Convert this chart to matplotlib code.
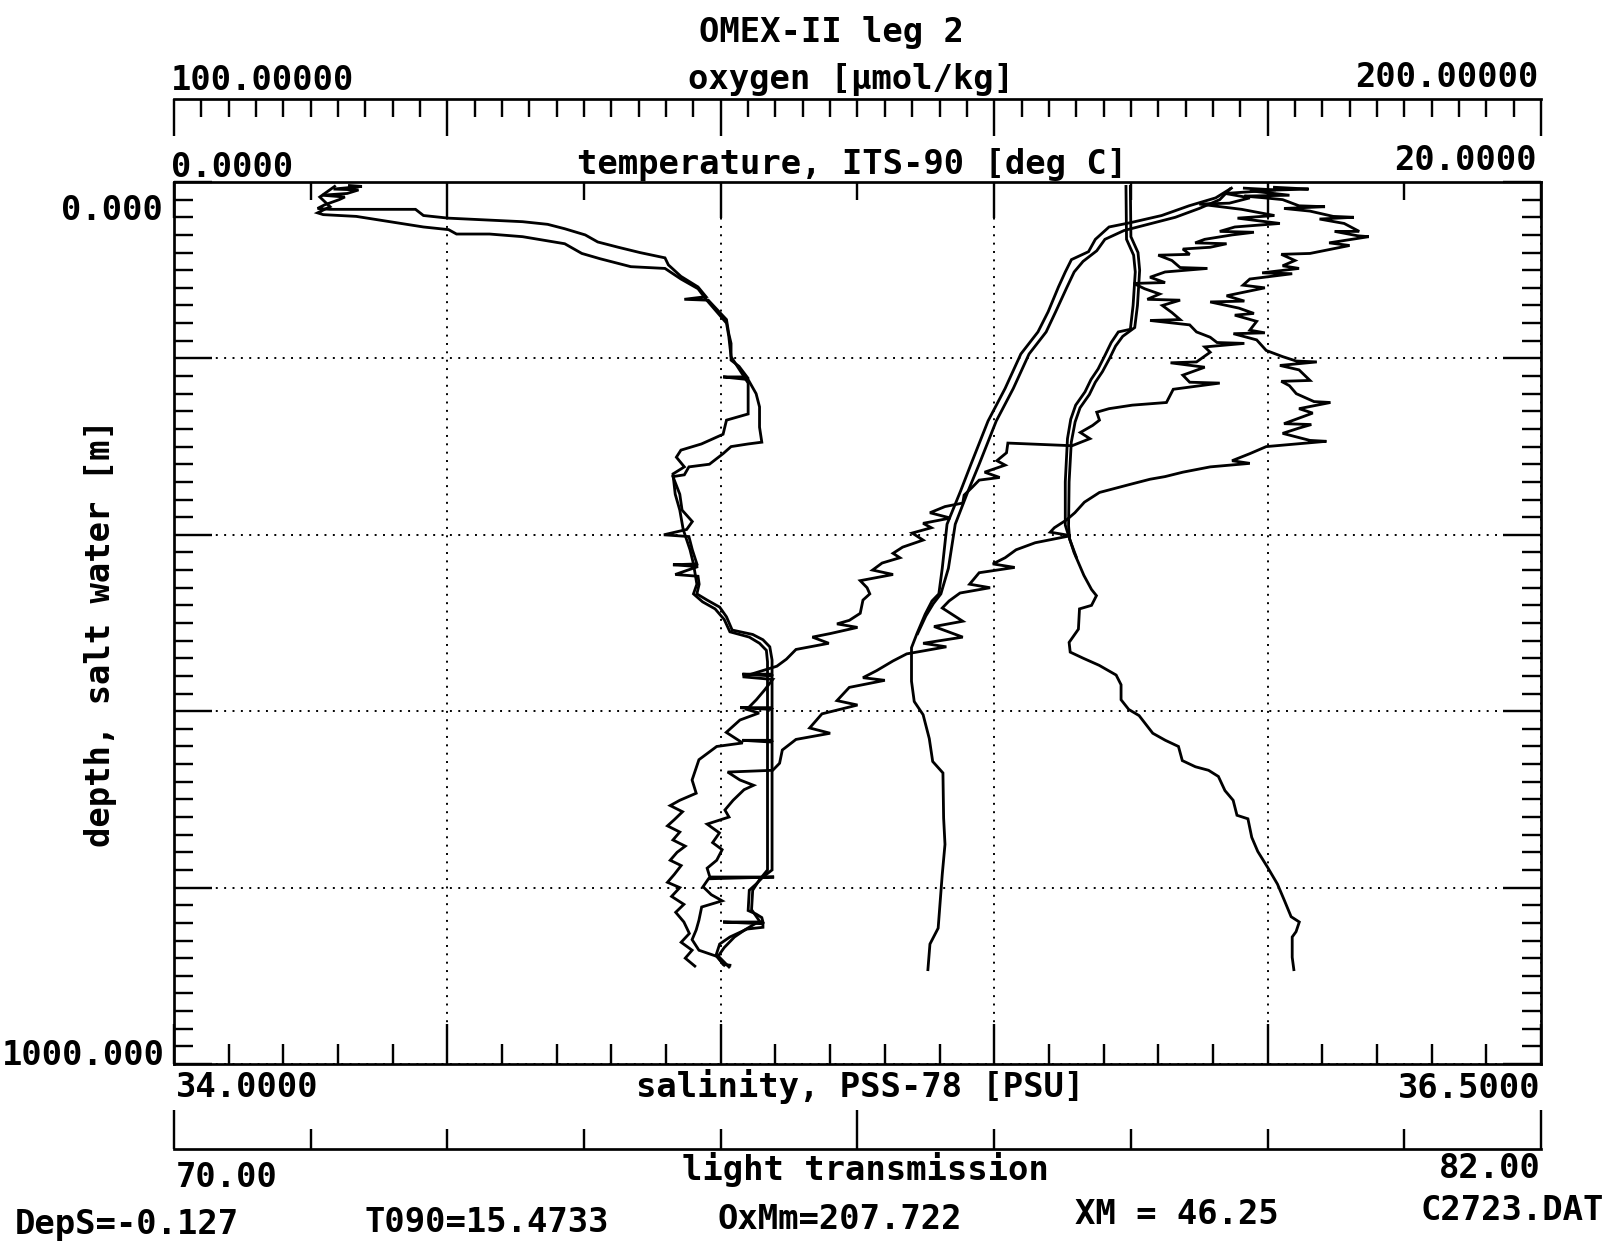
import matplotlib
matplotlib.use("Agg")
import matplotlib.pyplot as plt
from matplotlib.ticker import MultipleLocator, FixedLocator

W, H, DPI = 1615, 1247, 100
PX = 72.0 / DPI          # points per pixel

# ---------------- CTD profile data (depth in m) ----------------
# temperature, ITS-90 [deg C] -- two casts
temp_dn_depth = [7, 18, 27, 38, 46, 51, 65, 79, 88, 102, 119, 147, 170, 195, 234, 271, 320, 350, 388, 438,
                 467, 475, 490, 512, 528, 566, 589, 604, 631, 657, 670, 721, 751, 785, 846, 864, 893]
temp_dn = [15.47, 15.24, 14.85, 14.45, 14.00, 13.68, 13.48, 13.38, 13.13, 13.04, 12.94, 12.79, 12.64, 12.39,
           12.16, 11.91, 11.66, 11.51, 11.31, 11.24, 11.19, 11.09, 10.99, 10.87, 10.79, 10.79, 10.83, 10.96,
           11.05, 11.10, 11.25, 11.26, 11.28, 11.24, 11.18, 11.06, 11.03]
temp_up_depth = [8, 20, 30, 40, 48, 55, 65, 78, 90, 102, 120, 147, 170, 195, 234, 271, 320, 350, 388, 438,
                 467, 478, 492, 512]
temp_up = [15.45, 15.30, 15.00, 14.65, 14.25, 13.90, 13.62, 13.50, 13.30, 13.17, 13.06, 12.90, 12.76, 12.51,
           12.28, 12.03, 11.78, 11.62, 11.43, 11.33, 11.22, 11.11, 11.00, 10.88]

# salinity, PSS-78 [PSU] -- two casts
sal_dn_depth = [5, 65, 83, 102, 140, 167, 170, 182, 196, 212, 224, 238, 253, 269, 291, 340, 389, 397, 420, 446,
                462, 469, 480, 484, 507, 522, 533, 540, 548, 559, 570, 587, 598, 605, 625, 633, 640, 656, 663, 667,
                674, 690, 701, 718, 722, 743, 759, 777, 796, 815, 833, 839, 850, 856, 879, 893]
sal_dn = [35.741, 35.742, 35.755, 35.758, 35.754, 35.749, 35.727, 35.714, 35.703, 35.690, 35.677, 35.666, 35.649,
          35.640, 35.634, 35.630, 35.630, 35.634, 35.646, 35.664, 35.678, 35.687, 35.678, 35.656, 35.654, 35.637,
          35.639, 35.663, 35.692, 35.723, 35.732, 35.732, 35.746, 35.765, 35.790, 35.813, 35.837, 35.844, 35.868,
          35.892, 35.910, 35.922, 35.937, 35.944, 35.964, 35.971, 35.982, 36.000, 36.018, 36.031, 36.043, 36.058,
          36.052, 36.045, 36.045, 36.048]
sal_up_depth = [5, 62, 80, 100, 140, 165, 175, 186, 200, 215, 227, 241, 256, 272, 295, 340, 390, 405, 425]
sal_up = [35.749, 35.750, 35.763, 35.766, 35.762, 35.757, 35.735, 35.722, 35.711, 35.698, 35.685, 35.674, 35.657,
          35.648, 35.641, 35.637, 35.636, 35.638, 35.650]

# oxygen [umol/kg] -- two casts
oxy_dn_depth = [6, 8, 10, 15, 16, 18, 20, 27, 28, 30, 33, 39, 40, 42, 47, 56, 56, 61, 62, 69,
                72, 81, 82, 89, 95, 98, 103, 104, 110, 117, 120, 129, 135, 136, 143, 149, 151, 158, 168, 171,
                172, 179, 191, 198, 203, 204, 208, 213, 225, 226, 231, 240, 249, 250, 257, 262, 274, 275, 279, 285,
                293, 294, 300, 308, 316, 319, 323, 329, 334, 337, 343, 352, 363, 375, 383, 392, 397, 401, 409, 417,
                426, 433, 437, 443, 456, 460, 466, 475, 483, 498, 504, 516, 523, 527, 535, 543, 554, 562, 565, 573,
                588, 593, 603, 619, 625, 632, 644, 659, 667, 669, 678, 684, 689, 701, 712, 720, 728, 738, 749, 757,
                769, 778, 788, 788, 790, 799, 808, 815, 822, 837, 848, 859, 871, 879, 890]
oxy_dn = [180.5, 183.0, 178.7, 181.6, 178.3, 179.8, 181.1, 182.3, 184.2, 181.2, 183.1, 184.8, 186.3, 183.8, 185.6,
          186.7, 184.9, 186.6, 187.4, 184.5, 186.0, 183.1, 181.0, 182.0, 181.1, 182.3, 179.6, 181.8, 178.7, 178.2,
          179.8, 177.0, 178.3, 175.8, 177.9, 179.0, 177.6, 179.2, 178.7, 179.8, 177.5, 179.2, 179.9, 181.1, 182.1,
          183.6, 180.9, 182.3, 183.1, 181.0, 181.6, 182.1, 183.4, 184.6, 182.3, 183.3, 181.2, 183.2, 182.3, 181.1,
          183.1, 184.3, 179.9, 178.7, 177.4, 178.7, 175.8, 173.8, 172.5, 171.4, 169.9, 167.7, 166.6, 165.9, 165.3,
          164.4, 164.1, 165.6, 163.0, 161.6, 160.8, 159.9, 161.5, 158.9, 158.2, 159.7, 157.5, 156.7, 156.2, 157.7,
          155.6, 157.7, 154.8, 156.5, 153.6, 152.6, 151.4, 150.4, 152.0, 149.4, 148.5, 150.0, 147.4, 146.5, 148.0,
          145.5, 144.5, 144.3, 143.8, 140.5, 141.4, 142.4, 141.7, 140.9, 140.3, 140.6, 139.0, 139.9, 139.4, 140.1,
          139.7, 139.0, 139.2, 143.9, 139.1, 138.7, 139.3, 140.1, 138.6, 138.4, 138.2, 137.9, 138.4, 139.9, 140.6]
oxy_up_depth = [7, 9, 13, 18, 24, 25, 31, 38, 41, 47, 51, 56, 57, 60, 65, 69, 70, 74, 76, 82,
                83, 89, 97, 98, 102, 108, 114, 115, 121, 127, 133, 134, 140, 148, 156, 157, 162, 170, 176, 182,
                183, 187, 193, 204, 205, 210, 219, 227, 228, 235, 250, 253, 257, 261, 270, 276, 284, 291, 299, 296,
                307, 316, 321, 329, 335, 338, 346, 355, 364, 368, 375, 381, 387, 392, 398, 406, 414, 421, 426, 432,
                440, 445, 452, 460, 467, 474, 489, 497, 501, 505, 512, 516, 523, 530, 541, 549, 561, 564, 576, 587,
                598, 602, 610, 624, 636, 640, 655, 678, 693, 701, 707, 714, 723, 730, 737, 746, 753, 760, 769, 775,
                785, 794, 800, 810, 819, 828, 839, 852, 862, 871, 880, 889]
oxy_up = [178.3, 180.6, 176.9, 178.7, 177.2, 175.0, 178.1, 180.5, 177.8, 180.9, 177.6, 176.5, 179.0, 177.4, 175.4,
          174.7, 177.0, 175.8, 173.8, 174.3, 172.0, 173.0, 173.6, 175.6, 172.5, 171.4, 172.5, 170.2, 171.0, 172.1,
          171.2, 173.6, 172.3, 173.0, 173.6, 171.4, 174.3, 174.8, 175.8, 176.3, 178.3, 175.4, 175.8, 174.8, 172.9,
          175.4, 173.8, 174.3, 176.5, 173.1, 172.6, 170.1, 168.4, 167.5, 167.7, 167.2, 166.3, 167.0, 165.7, 161.0,
          160.9, 160.2, 160.8, 159.3, 160.4, 158.9, 158.4, 157.8, 157.7, 156.4, 155.3, 156.8, 154.8, 155.4, 154.0,
          154.8, 153.3, 152.6, 153.1, 151.8, 151.1, 152.6, 150.2, 150.7, 150.9, 150.4, 150.2, 149.4, 148.5, 150.0,
          148.0, 146.7, 147.9, 145.5, 144.8, 144.1, 141.6, 143.8, 143.2, 142.6, 141.9, 142.8, 141.4, 140.4, 141.6,
          139.7, 138.4, 137.9, 138.2, 137.0, 136.3, 137.2, 136.6, 136.1, 137.0, 136.5, 137.4, 136.8, 136.3, 137.1,
          136.6, 136.1, 137.0, 136.4, 137.3, 136.7, 137.3, 137.7, 137.1, 137.9, 137.4, 138.1]

# light transmission [%] -- two casts
lt_dn_depth = [4, 5, 8, 9, 13, 15, 17, 20, 26, 30, 31, 31, 38, 41, 45, 48, 53, 60, 68, 74,
               80, 86, 94, 107, 119, 130, 133, 134, 145, 156, 172, 183, 202, 209, 221, 221, 224, 240, 255, 278,
               295, 297, 300, 308, 320, 323, 332, 334, 354, 372, 385, 394, 400, 402, 417, 433, 434, 436, 445, 447,
               456, 467, 474, 482, 493, 508, 513, 519, 527, 542, 558, 558, 560, 584, 596, 596, 598, 633, 633, 635,
               652, 697, 743, 780, 788, 796, 803, 826, 830, 834, 839, 839, 841, 845, 847, 856, 864, 876, 887, 888]
lt_dn = [71.54, 71.65, 71.40, 71.62, 71.52, 71.30, 71.50, 71.45, 71.32, 71.26, 71.37, 72.12, 72.19, 72.41, 73.06,
         73.28, 73.43, 73.61, 73.72, 73.90, 74.09, 74.31, 74.34, 74.45, 74.60, 74.67, 74.48, 74.69, 74.77, 74.85,
         74.87, 74.89, 74.89, 74.96, 75.03, 74.82, 75.04, 75.11, 75.14, 75.14, 75.16, 75.04, 74.89, 74.82, 74.70,
         74.52, 74.48, 74.38, 74.44, 74.46, 74.55, 74.50, 74.30, 74.52, 74.55, 74.59, 74.38, 74.60, 74.40, 74.60,
         74.61, 74.59, 74.68, 74.79, 74.85, 74.90, 75.08, 75.17, 75.23, 75.25, 75.25, 74.99, 75.25, 75.25, 75.25,
         74.97, 75.25, 75.25, 74.99, 75.25, 75.25, 75.25, 75.25, 75.25, 75.17, 75.11, 75.05, 75.04, 75.11, 75.16,
         75.17, 74.82, 75.17, 75.17, 75.03, 74.88, 74.79, 74.76, 74.82, 74.88]
lt_up_depth = [5, 17, 28, 35, 37, 39, 51, 54, 59, 59, 62, 70, 81, 87, 96, 98, 110, 121, 133, 148,
               160, 175, 198, 212, 228, 263, 270, 286, 297, 304, 312, 323, 331, 354, 372, 394, 417, 433, 456, 467,
               476, 484, 496, 510, 516, 523, 531, 544, 652, 780, 791, 803, 825, 838, 848, 856, 868, 879, 888]
lt_up = [71.41, 71.28, 71.37, 71.26, 71.31, 71.60, 72.19, 72.41, 72.48, 72.77, 73.06, 73.43, 73.58, 73.74, 74.01,
         74.31, 74.45, 74.60, 74.67, 74.77, 74.85, 74.87, 74.89, 74.96, 75.04, 75.04, 74.85, 74.82, 74.63, 74.45,
         74.41, 74.48, 74.38, 74.40, 74.44, 74.47, 74.53, 74.56, 74.59, 74.56, 74.64, 74.75, 74.83, 74.88, 75.05,
         75.14, 75.20, 75.21, 75.21, 75.21, 75.14, 75.08, 75.07, 75.14, 75.01, 74.92, 74.83, 74.77, 74.83]

# axis ranges and tick steps
DEPTH_RANGE = (0.0, 1000.0)
SAL_RANGE = (34.0, 36.5)
TEMP_RANGE = (0.0, 20.0)
OXY_RANGE = (100.0, 200.0)
LT_RANGE = (70.0, 82.0)
LT_TICKS = [70.0, 71.2, 72.4, 73.6, 74.8, 76.0, 77.2, 78.4, 79.6, 80.8, 82.0]
LT_LONG = [70.0, 76.0, 82.0]

# ---------------- figure ----------------
fig = plt.figure(figsize=(W / DPI, H / DPI), dpi=DPI)
fig.patch.set_facecolor("white")


def rect(x0, y_top, x1, y_bot):
    return [x0 / W, 1 - y_bot / H, (x1 - x0) / W, (y_bot - y_top) / H]


LW_FRAME = 2.7 * PX
LW_TICK = 2.4 * PX
LW_DATA = 2.8 * PX
INK = "black"

FONT = dict(family="DejaVu Sans Mono", weight="bold", size=24.4, color=INK)


def put(x, y, s, ha="left", **kw):
    fig.text(x / W, 1 - y / H, s, ha=ha, va="baseline", **FONT, **kw)


# main plotting frame: depth vs salinity (bottom)
ax = fig.add_axes(rect(174, 182, 1541, 1064))
ax.set_xlim(*SAL_RANGE)
ax.set_ylim(DEPTH_RANGE[1], DEPTH_RANGE[0])
for sp in ax.spines.values():
    sp.set_linewidth(LW_FRAME)
ax.xaxis.set_major_locator(MultipleLocator(0.5))
ax.xaxis.set_minor_locator(MultipleLocator(0.1))
ax.yaxis.set_major_locator(MultipleLocator(200))
ax.yaxis.set_minor_locator(MultipleLocator(20))
ax.tick_params(which="both", direction="in", bottom=True, top=False, left=True, right=True,
               labelbottom=False, labelleft=False, width=LW_TICK, color=INK)
ax.tick_params(axis="x", which="major", length=40 * PX)
ax.tick_params(axis="x", which="minor", length=20 * PX)
ax.tick_params(axis="y", which="major", length=38 * PX)
ax.tick_params(axis="y", which="minor", length=19 * PX)
ax.grid(True, which="major", color=INK, linestyle=(0, (1, 3.3)), linewidth=1.4)

# temperature scale along the top edge of the frame
ax_t = ax.twiny()
ax_t.set_xlim(*TEMP_RANGE)
for sp in ax_t.spines.values():
    sp.set_visible(False)
ax_t.xaxis.set_major_locator(MultipleLocator(4))
ax_t.xaxis.set_minor_locator(MultipleLocator(2))
ax_t.tick_params(which="both", direction="in", top=True, bottom=False, labeltop=False,
                 labelbottom=False, width=LW_TICK, color=INK)
ax_t.tick_params(which="major", length=36 * PX)
ax_t.tick_params(which="minor", length=18 * PX)

# hidden data scales for oxygen and light transmission
ax_od = ax.twiny()
ax_od.set_xlim(*OXY_RANGE)
ax_od.axis("off")
ax_ld = ax.twiny()
ax_ld.set_xlim(*LT_RANGE)
ax_ld.axis("off")

line_kw = dict(color=INK, linewidth=LW_DATA, solid_joinstyle="miter")
ax.plot(sal_dn, sal_dn_depth, **line_kw)
ax.plot(sal_up, sal_up_depth, **line_kw)
ax_t.plot(temp_dn, temp_dn_depth, **line_kw)
ax_t.plot(temp_up, temp_up_depth, **line_kw)
ax_od.plot(oxy_dn, oxy_dn_depth, **line_kw)
ax_od.plot(oxy_up, oxy_up_depth, **line_kw)
ax_ld.plot(lt_dn, lt_dn_depth, **line_kw)
ax_ld.plot(lt_up, lt_up_depth, **line_kw)

# oxygen scale above the frame
ax_o = fig.add_axes(rect(174, 99, 1541, 150))
ax_o.set_xlim(*OXY_RANGE)
ax_o.patch.set_visible(False)
for name, sp in ax_o.spines.items():
    sp.set_visible(name == "top")
    sp.set_linewidth(LW_FRAME)
ax_o.set_yticks([])
ax_o.xaxis.set_major_locator(MultipleLocator(20))
ax_o.xaxis.set_minor_locator(MultipleLocator(2))
ax_o.tick_params(which="both", direction="in", top=True, bottom=False, labeltop=False,
                 labelbottom=False, width=LW_TICK, color=INK)
ax_o.tick_params(which="major", length=37 * PX)
ax_o.tick_params(which="minor", length=18 * PX)

# light transmission scale below the frame
ax_l = fig.add_axes(rect(174, 1100, 1541, 1149))
ax_l.set_xlim(*LT_RANGE)
ax_l.patch.set_visible(False)
for name, sp in ax_l.spines.items():
    sp.set_visible(name == "bottom")
    sp.set_linewidth(LW_FRAME)
ax_l.set_yticks([])
ax_l.xaxis.set_major_locator(FixedLocator(LT_LONG))
ax_l.xaxis.set_minor_locator(FixedLocator([t for t in LT_TICKS if t not in LT_LONG]))
ax_l.tick_params(which="both", direction="in", bottom=True, top=False, labelbottom=False,
                 width=LW_TICK, color=INK)
ax_l.tick_params(which="major", length=39 * PX)
ax_l.tick_params(which="minor", length=20 * PX)

# ---------------- text ----------------
put(831, 42, "OMEX-II leg 2", ha="center")

put(171, 90, "100.00000")
put(851, 89, "oxygen [µmol/kg]", ha="center")
put(1539, 87, "200.00000", ha="right")

put(171, 177, "0.0000")
put(852, 174, "temperature, ITS-90 [deg C]", ha="center")
put(1537, 170, "20.0000", ha="right")

put(163, 220, "0.000", ha="right")
put(165, 1065, "1000.000", ha="right")
fig.text(101 / W, 1 - 633 / H, "depth, salt water [m]", rotation=90, ha="center", va="center",
         rotation_mode="anchor", **FONT)

put(176, 1097, "34.0000")
put(860, 1097, "salinity, PSS-78 [PSU]", ha="center")
put(1541, 1098, "36.5000", ha="right")

put(176, 1187, "70.00")
put(865, 1180, "light transmission", ha="center")
put(1541, 1178, "82.00", ha="right")

put(15, 1234, "DepS=-0.127")
put(365, 1232, "T090=15.4733")
put(718, 1229, "OxMm=207.722")
put(1075, 1224, "XM = 46.25")
put(1421, 1220, "C2723.DAT")

fig.savefig("out.png", dpi=DPI, facecolor="white")
